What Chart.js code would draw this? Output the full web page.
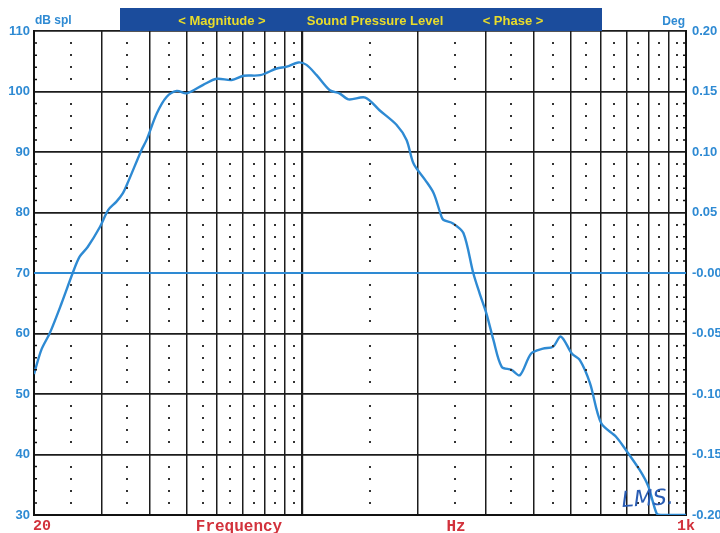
<!DOCTYPE html>
<html>
<head>
<meta charset="utf-8">
<script src="https://cdn.jsdelivr.net/npm/chart.js@4"></script>
<style>
  html, body { margin: 0; padding: 0; background: #fff; }
  #wrap { width: 720px; height: 533px; }
</style>
</head>
<body>
<div id="wrap"><canvas id="spl"></canvas></div>
<script>
const freqHz = [20, 20.9, 22.0, 23.6, 25.3, 26.3, 27.6, 29.7, 31.2, 32.8, 34.1, 35.2, 38.1, 39.3, 41.8, 44.3,
  47.1, 50.0, 55.2, 59.8, 65.5, 70.3, 77.7, 85.8, 91.1, 97.6, 102.6, 109, 118, 125, 132, 146, 159, 176,
  187, 195, 209, 220, 229, 233, 247, 263, 279, 290, 302, 315, 331, 351, 369, 395, 424, 450, 472, 504,
  529, 562, 601, 658, 698, 758, 798, 838, 860, 1000];
const splDb = [53.3, 57.3, 60.1, 65.0, 70.2, 72.7, 74.3, 77.6, 80.4, 81.8, 83.2, 85.1, 90.3, 92.0, 96.4, 99.1,
  100.1, 99.7, 101.1, 102.1, 101.9, 102.6, 102.7, 103.8, 104.1, 104.8, 104.4, 102.7, 100.2, 99.7, 98.7, 99.0, 96.9, 94.5,
  92.0, 88.1, 85.4, 83.2, 79.9, 78.8, 78.2, 76.6, 70.0, 66.6, 63.3, 58.9, 54.5, 54.0, 53.1, 56.7, 57.5, 57.8, 59.5, 56.7,
  55.6, 51.8, 45.2, 42.9, 40.7, 37.4, 34.7, 30.3, 30, 30];

// phase trace (flat at zero)
const phaseHz = [20, 1000];
const phaseDeg = [0, 0];

// grid / tick values
const xGridHz = [20, 30, 40, 50, 60, 70, 80, 90, 100, 200, 300, 400, 500, 600, 700, 800, 900, 1000];
const xDotHz = [25, 35, 45, 55, 65, 75, 85, 95, 150, 250, 350, 450, 550, 650, 750, 850, 950];
const phaseTickLabels = ['-0.20', '-0.15', '-0.10', '-0.05', '-0.00', '0.05', '0.10', '0.15', '0.20'];
const xTickLabels = [{ hz: 20, text: '20' }, { hz: 1000, text: '1k' }];

const BLUE = '#2e8ad3';
const RED = '#d2323c';

const decor = {
  id: 'decor',
  afterDraw(chart) {
    const { ctx, chartArea: a, scales } = chart;
    const x = scales.x, y = scales.y;
    ctx.save();
    // dotted sub grid
    ctx.fillStyle = '#333';
    for (const f of xDotHz) {
      const px = x.getPixelForValue(f);
      for (let d = 32; d < 110; d += 2) {
        if (d % 10 === 0) continue;
        const py = y.getPixelForValue(d);
        ctx.fillRect(Math.round(px) - 1, Math.round(py) - 1, 2, 2);
      }
    }
    // small axis ticks every 2 dB
    ctx.strokeStyle = '#111';
    ctx.lineWidth = 1.5;
    for (let d = 32; d < 110; d += 2) {
      if (d % 10 === 0) continue;
      const py = y.getPixelForValue(d);
      ctx.beginPath();
      ctx.moveTo(a.left, py); ctx.lineTo(a.left + 3, py);
      ctx.moveTo(a.right - 3, py); ctx.lineTo(a.right, py);
      ctx.stroke();
    }
    // title bar
    ctx.fillStyle = '#1b4c9c';
    ctx.fillRect(120, 8, 482, a.top - 8);
    ctx.fillStyle = '#e9dc2a';
    ctx.font = 'bold 13px "Liberation Sans", Arial, sans-serif';
    ctx.textBaseline = 'middle';
    ctx.textAlign = 'center';
    ctx.fillText('< Magnitude >', 222, 21);
    ctx.fillText('Sound Pressure Level', 375, 21);
    ctx.fillText('< Phase >', 513, 21);
    // units
    ctx.fillStyle = BLUE;
    ctx.font = 'bold 12px "Liberation Sans", Arial, sans-serif';
    ctx.textAlign = 'left';
    ctx.fillText('dB spl', 35, 21);
    ctx.textAlign = 'right';
    ctx.fillText('Deg', 685, 22);
    // bottom labels
    ctx.fillStyle = RED;
    ctx.font = 'bold 15px "Liberation Mono", "Courier New", monospace';
    ctx.textBaseline = 'alphabetic';
    ctx.textAlign = 'left';
    ctx.fillText(xTickLabels[0].text, x.getPixelForValue(xTickLabels[0].hz) - 1, 530);
    ctx.textAlign = 'center';
    ctx.fillText(xTickLabels[1].text, x.getPixelForValue(xTickLabels[1].hz), 530);
    ctx.font = 'bold 16px "Liberation Mono", "Courier New", monospace';
    ctx.fillText('Frequency', 239, 531);
    ctx.fillText('Hz', 456, 531);
    // signature
    ctx.fillStyle = '#2a5db4';
    ctx.font = 'italic 22px "DejaVu Sans", sans-serif';
    ctx.textAlign = 'left';
    ctx.translate(622, 507);
    ctx.rotate(-0.06);
    ctx.fillText('LMS.', 0, 0);
    ctx.restore();
  }
};

new Chart(document.getElementById('spl'), {
  type: 'line',
  data: {
    datasets: [
      {
        label: 'SPL',
        data: freqHz.map((f, i) => ({ x: f, y: splDb[i] })),
        borderColor: BLUE,
        borderWidth: 2.4,
        pointRadius: 0,
        tension: 0.3,
        yAxisID: 'y'
      },
      {
        label: 'Phase',
        data: phaseHz.map((f, i) => ({ x: f, y: phaseDeg[i] })),
        borderColor: BLUE,
        borderWidth: 2.2,
        pointRadius: 0,
        yAxisID: 'y2'
      }
    ]
  },
  options: {
    responsive: true,
    maintainAspectRatio: false,
    animation: false,
    layout: { padding: { top: 31, left: 0, right: 0, bottom: 0 } },
    plugins: { legend: { display: false }, tooltip: { enabled: false } },
    scales: {
      x: {
        type: 'logarithmic',
        min: 20,
        max: 1000,
        afterBuildTicks: (s) => { s.ticks = xGridHz.map(v => ({ value: v })); },
        afterFit: (s) => { s.height = 18; },
        ticks: { display: false },
        grid: {
          color: '#1c1c1c',
          lineWidth: (c) => (c.tick && c.tick.value === 100 ? 2.2 : 1.5),
          drawTicks: false
        },
        border: { color: '#111', width: 2 }
      },
      y: {
        position: 'left',
        min: 30,
        max: 110,
        afterFit: (s) => { s.width = 34; },
        ticks: {
          stepSize: 10,
          padding: 4,
          color: BLUE,
          font: { family: '"Liberation Sans", Arial, sans-serif', size: 13, weight: 'bold' }
        },
        grid: { color: '#1c1c1c', lineWidth: 1.8, drawTicks: false },
        border: { color: '#111', width: 2 }
      },
      y2: {
        position: 'right',
        min: -0.2,
        max: 0.2,
        afterFit: (s) => { s.width = 34; },
        ticks: {
          stepSize: 0.05,
          padding: 6,
          color: BLUE,
          font: { family: '"Liberation Sans", Arial, sans-serif', size: 13, weight: 'bold' },
          callback: (v, i) => phaseTickLabels[i]
        },
        grid: { drawOnChartArea: false, drawTicks: false },
        border: { color: '#111', width: 2 }
      }
    }
  },
  plugins: [decor]
});
</script>
</body>
</html>
